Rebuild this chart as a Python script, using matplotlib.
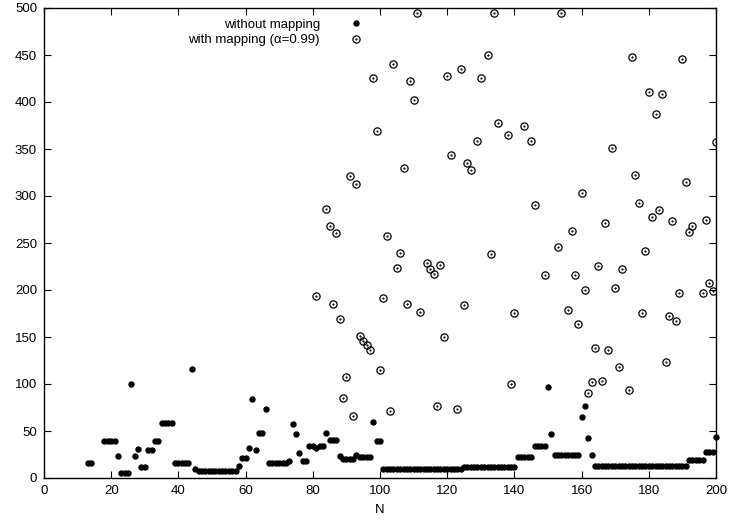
import matplotlib
matplotlib.use("Agg")
import matplotlib.pyplot as plt
from matplotlib.legend_handler import HandlerTuple

plt.rcParams['font.family'] = ['Liberation Sans', 'DejaVu Sans']

# without mapping (filled dots), one value per N
n_plain = [13, 14] + list(range(18, 201))
v_plain = [
    16, 16,
    39, 39,
    39, 39, 23, 5, 5, 5, 100, 23, 31, 12,
    12, 30, 30, 39, 39, 59, 59, 59, 59, 16,
    16, 16, 16, 16, 116, 10, 7, 7, 7, 7,
    7, 7, 7, 7, 7, 7, 7, 7, 13, 21,
    21, 32, 84, 30, 48, 48, 73, 16, 16, 16,
    16, 16, 16, 18, 57, 47, 27, 18, 18, 34,
    34, 32, 34, 34, 48, 40, 40, 40, 23, 20,
    20, 20, 20, 24, 22, 22, 22, 22, 60, 39,
    39, 10, 10, 10, 10, 10, 10, 10, 10, 10,
    10, 10, 10, 10, 10, 10, 10, 10, 10, 10,
    10, 10, 10, 10, 10, 12, 12, 12, 12, 12,
    12, 12, 12, 12, 12, 12, 12, 12, 12, 12,
    12, 22, 22, 22, 22, 22, 34, 34, 34, 34,
    97, 47, 25, 25, 25, 25, 25, 25, 25, 25,
    65, 77, 43, 25, 13, 13, 13, 13, 13, 13,
    13, 13, 13, 13, 13, 13, 13, 13, 13, 13,
    13, 13, 13, 13, 13, 13, 13, 13, 13, 13,
    13, 13, 19, 19, 19, 19, 19, 28, 28, 28,
    44,
]

# with mapping (open circles), only the points below 500 are visible
n_mapped = [81, 84, 85, 86, 87, 88, 89, 90, 91, 92, 93, 94, 95, 96, 97, 98, 99, 100,
            101, 102, 103, 104, 105, 106, 107, 108, 109, 110, 111, 112, 114, 115, 116,
            117, 118, 119, 120, 121, 123, 124, 125, 126, 127, 129, 130, 132, 133, 134,
            135, 138, 139, 140, 143, 145, 146, 149, 153, 154, 156, 157, 158, 159, 160,
            161, 162, 163, 164, 165, 166, 167, 168, 169, 170, 171, 172, 174, 175, 176,
            177, 178, 179, 180, 181, 182, 183, 184, 185, 186, 187, 188, 189, 190, 191,
            192, 193, 196, 197, 198, 199, 200]
v_mapped = [194, 286, 268, 185, 261, 169, 85, 107, 321, 66, 313, 151, 146, 141, 136, 426, 369, 115,
            191, 257, 71, 440, 223, 239, 330, 185, 422, 402, 495, 177, 229, 222, 217,
            77, 227, 150, 428, 344, 73, 435, 184, 335, 328, 358, 426, 450, 238, 495,
            378, 365, 100, 176, 374, 359, 290, 216, 246, 495, 179, 263, 216, 164, 303,
            200, 90, 102, 138, 226, 103, 271, 136, 351, 202, 118, 222, 94, 448, 322,
            293, 176, 242, 411, 278, 387, 285, 408, 123, 172, 273, 167, 197, 446, 315,
            262, 268, 197, 275, 207, 199, 357]

fig = plt.figure(figsize=(7.29, 5.21), dpi=100)
ax = fig.add_axes([44 / 729, 1 - 478 / 521, 672 / 729, 470 / 521])

h1, = ax.plot(n_plain, v_plain, 'o', color='black', markersize=4.6,
              markeredgewidth=0, linestyle='none', clip_on=False)
h2, = ax.plot(n_mapped, v_mapped, 'o', mfc='none', mec='black', markersize=5.2,
              markeredgewidth=0.9, linestyle='none')
h3, = ax.plot(n_mapped, v_mapped, '.', color='black', markersize=1.2, linestyle='none')

ax.set_xlim(0, 200)
ax.set_ylim(0, 500)
ax.set_xticks(range(0, 201, 20))
ax.set_yticks(range(0, 501, 50))
ax.tick_params(direction='in', top=True, right=True, length=5, width=0.8,
               labelsize=9.5, pad=5)
for s in ax.spines.values():
    s.set_linewidth(1.0)
ax.set_xlabel('N', fontsize=9.5, labelpad=5)

ax.legend([h1, (h2, h3)], ['without mapping', 'with mapping (\u03b1=0.99)'],
          handler_map={tuple: HandlerTuple(ndivide=1)},
          loc='upper right', bbox_to_anchor=(0.493, 0.997), frameon=False,
          markerfirst=False, fontsize=9.5, handlelength=1.5, handletextpad=2.0,
          labelspacing=0.25, borderpad=0.2)

fig.savefig('out.png', dpi=100)
